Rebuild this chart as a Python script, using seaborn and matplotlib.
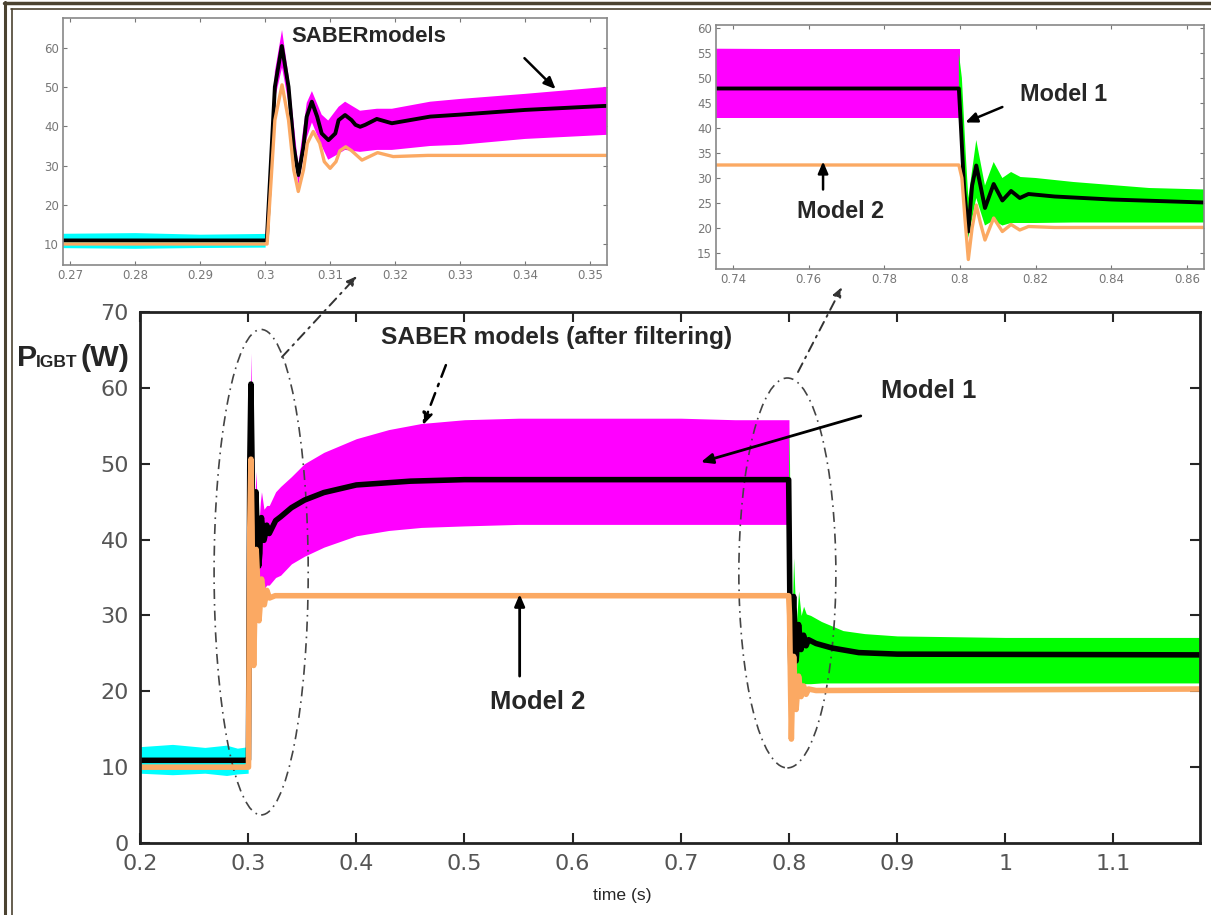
import matplotlib
matplotlib.use("Agg")
import matplotlib.pyplot as plt
import seaborn as sns
from matplotlib import font_manager
from matplotlib.patches import Ellipse
from matplotlib.lines import Line2D
from matplotlib.ticker import FixedLocator, FixedFormatter

# ---- valores (P_IGBT em W, tempo em s) ----
# SABER antes do degrau (faixa ciano)
t_cyan = [0.2, 0.23, 0.26, 0.28, 0.29, 0.3]
cyan_hi = [12.7, 13.0, 12.6, 12.9, 12.5, 12.7]
cyan_lo = [9.2, 9.0, 9.2, 8.9, 9.1, 9.2]

# SABER entre 0.3 e 0.8 (faixa magenta)
t_mag = [0.300, 0.3015, 0.3026, 0.3036, 0.3051, 0.3064, 0.3072, 0.3087, 0.3097, 0.3113,
         0.3123, 0.3146, 0.3172, 0.3195, 0.3254, 0.33, 0.34, 0.352, 0.37, 0.40, 0.43,
         0.46, 0.50, 0.55, 0.60, 0.65, 0.70, 0.75, 0.8]
mag_hi = [10, 54, 64.6, 53, 30, 46, 49, 43, 41.5, 45,
          46.3, 44, 44.5, 44.5, 46.3, 47, 48.3, 50, 51.5, 53.3, 54.5,
          55.3, 55.8, 56, 56, 56, 56, 55.8, 55.8]
mag_lo = [10, 47, 55, 46, 25, 37, 41, 35, 31.5, 33,
          34, 33.5, 34, 34, 35, 35.3, 36.8, 37.8, 39, 40.5, 41.2,
          41.6, 41.8, 42, 42, 42, 42, 42, 42]

# SABER depois de 0.8 (faixa verde)
t_green = [0.7997, 0.8005, 0.8015, 0.8022, 0.8043, 0.8066, 0.8089, 0.8112, 0.8135, 0.816,
           0.82, 0.83, 0.85, 0.87, 0.9, 1.0, 1.18]
green_hi = [55, 50, 35, 26, 37.6, 28.5, 33.2, 30, 31.2, 30.2,
            30, 29.2, 28, 27.6, 27.3, 27.1, 27.1]
green_lo = [42, 40, 25, 18, 26, 20.5, 21.5, 20.5, 21, 21,
            21, 21.1, 21.1, 21.1, 21.1, 21.1, 21.1]

# Model 1 (preto)
t_model1 = [0.2, 0.3, 0.30026, 0.3015, 0.30257, 0.3036, 0.3044, 0.30513, 0.3059, 0.3064,
            0.30718, 0.3080, 0.3087, 0.30974, 0.3108, 0.3113, 0.3123, 0.3133, 0.3139, 0.31462,
            0.3154, 0.31718, 0.3195, 0.3254, 0.33, 0.34, 0.352, 0.37, 0.40, 0.45,
            0.50, 0.7997, 0.8002, 0.8011, 0.8022, 0.8032, 0.8043, 0.8054, 0.8066, 0.8089,
            0.8112, 0.8135, 0.8158, 0.8181, 0.825, 0.84, 0.8645, 0.9, 1.18]
p_model1 = [10.9, 10.9, 11, 50.1, 60.5, 50.1, 34.8, 27.6, 34.8, 42.5,
            46.3, 42.5, 38.2, 36.5, 38.2, 41.6, 42.9, 41.6, 40.4, 39.9,
            40.4, 41.9, 40.8, 42.5, 43, 44.2, 45.2, 46.2, 47.2, 47.7,
            47.9, 47.9, 40.9, 27.6, 19.3, 28.5, 32.5, 28.5, 24, 28.8,
            25.5, 27.4, 26, 26.8, 26.3, 25.7, 25.1, 24.9, 24.8]

# Model 2 (laranja)
t_model2 = [0.2, 0.3, 0.3003, 0.3015, 0.3026, 0.3036, 0.3044, 0.3051, 0.3059, 0.3065,
            0.3074, 0.3084, 0.3091, 0.3100, 0.3109, 0.3115, 0.3124, 0.3133, 0.3149, 0.3173,
            0.3197, 0.325, 0.7997, 0.8005, 0.8013, 0.8022, 0.8032, 0.8043, 0.8054, 0.8066,
            0.8089, 0.8112, 0.8135, 0.8158, 0.8181, 0.825, 1.18]
p_model2 = [10, 10, 10, 41.6, 50.6, 41.6, 28.9, 23.4, 28.9, 35.7,
            38.7, 35.7, 31, 29.3, 31, 33.8, 34.8, 33.8, 31.4, 33.3,
            32.3, 32.6, 32.6, 30, 22, 13.7, 20, 24.6, 21, 17.6,
            22, 19.3, 20.7, 19.6, 20.3, 20.1, 20.3]

# eixos
main_xticks = [0.2, 0.3, 0.4, 0.5, 0.6, 0.7, 0.8, 0.9, 1.0, 1.1]
main_xlabels = ["0.2", "0.3", "0.4", "0.5", "0.6", "0.7", "0.8", "0.9", "1", "1.1"]
main_yticks = [0, 10, 20, 30, 40, 50, 60, 70]
zoom1_xticks = [0.27, 0.28, 0.29, 0.30, 0.31, 0.32, 0.33, 0.34, 0.35]
zoom1_xlabels = ["0.27", "0.28", "0.29", "0.3", "0.31", "0.32", "0.33", "0.34", "0.35"]
zoom1_yticks = [10, 20, 30, 40, 50, 60]
zoom2_xticks = [0.74, 0.76, 0.78, 0.80, 0.82, 0.84, 0.86]
zoom2_xlabels = ["0.74", "0.76", "0.78", "0.8", "0.82", "0.84", "0.86"]
zoom2_yticks = [15, 20, 25, 30, 35, 40, 45, 50, 55, 60]

CYAN, MAGENTA, GREEN, ORANGE = "#00ffff", "#ff00ff", "#00ff00", "#fba963"

sns.set_style("ticks")
names = {f.name for f in font_manager.fontManager.ttflist}
if "Liberation Sans Narrow" in names:
    NARROW, k = "Liberation Sans Narrow", 1.0
else:
    NARROW, k = "Liberation Sans", 0.84
plt.rcParams["font.family"] = ["DejaVu Sans"]

W, H = 1211, 915
fig = plt.figure(figsize=(W / 100, H / 100), dpi=100)
fig.patch.set_facecolor("white")


def px(x, y):
    return (x / W, 1 - y / H)


def draw_traces(ax, lw_blk, lw_org):
    ax.fill_between(t_cyan, cyan_lo, cyan_hi, color=CYAN, lw=0)
    ax.fill_between(t_mag, mag_lo, mag_hi, color=MAGENTA, lw=0)
    ax.fill_between(t_green, green_lo, green_hi, color=GREEN, lw=0)
    sns.lineplot(x=t_model1, y=p_model1, ax=ax, color="black", lw=lw_blk,
                 estimator=None, sort=False, legend=False)
    sns.lineplot(x=t_model2, y=p_model2, ax=ax, color=ORANGE, lw=lw_org,
                 estimator=None, sort=False, legend=False)
    for ln in ax.lines:
        ln.set_solid_joinstyle("round")


def bold(ax, x, y, s, size, **kw):
    ax.text(x, y, s, fontsize=size * k, fontweight="bold", family=NARROW,
            ha="center", va="center", **kw)


def arrow(ax, head, tail, ls="-", lw=1.8, color="black", **kw):
    ax.annotate("", xy=head, xytext=tail,
                arrowprops=dict(arrowstyle="-|>,head_length=0.7,head_width=0.3",
                                ls=ls, lw=lw, color=color, shrinkA=0, shrinkB=0),
                annotation_clip=False, **kw)


# ---- grafico principal ----
ax = fig.add_axes([140 / W, 72 / H, 1060 / W, 531 / H])
draw_traces(ax, 4, 4)
ax.set_xlim(0.2, 1.18)
ax.set_ylim(0, 70)
ax.xaxis.set_major_locator(FixedLocator(main_xticks))
ax.xaxis.set_major_formatter(FixedFormatter(main_xlabels))
ax.yaxis.set_major_locator(FixedLocator(main_yticks))
ax.tick_params(direction="in", length=7, width=1.5, top=True, right=True,
               labelsize=16, labelcolor="#555555", pad=8)
for s in ax.spines.values():
    s.set_linewidth(2)
    s.set_color("#222222")
ax.set_xlabel("")
ax.set_ylabel("")

ell_style = dict(fill=False, ls=(0, (6, 3, 1, 3)), lw=1.2, ec="#444444")
ax.add_patch(Ellipse((0.312, 35.7), 0.087, 64, **ell_style))
ax.add_patch(Ellipse((0.7985, 35.6), 0.0897, 51.4, **ell_style))

bold(ax, 0.5854, 66.7, "SABER models (after filtering)", 21)
arrow(ax, (0.4616, 55.1), (0.4828, 63.0), ls=(0, (5, 3, 1, 3)))
bold(ax, 0.929, 59.6, "Model 1", 22)
arrow(ax, (0.7185, 50.2), (0.8664, 56.3), lw=2)
bold(ax, 0.568, 18.6, "Model 2", 22)
arrow(ax, (0.551, 32.8), (0.551, 22.0), lw=2)

# linhas de ligacao para os zooms
for tail, head in [((282, 357), (357, 276)), ((798, 372), (842, 287))]:
    ax.annotate("", xy=px(*head), xycoords="figure fraction",
                xytext=px(*tail), textcoords="figure fraction",
                arrowprops=dict(arrowstyle="-|>,head_length=0.6,head_width=0.25",
                                ls=(0, (5, 3, 1, 3)), lw=1.4, color="#333333",
                                shrinkA=0, shrinkB=0),
                annotation_clip=False)


def style_inset(a):
    a.tick_params(direction="in", length=3, width=0.8, color="#777777",
                  top=True, right=True, labelsize=8.5, labelcolor="#777777", pad=3)
    for s in a.spines.values():
        s.set_linewidth(1.2)
        s.set_color("#888888")
    a.set_xlabel("")
    a.set_ylabel("")


# ---- zoom em 0.3 s ----
ax1 = fig.add_axes([63 / W, 650 / H, 544 / W, 247 / H])
draw_traces(ax1, 2.8, 2.4)
ax1.set_xlim(0.2689, 0.3526)
ax1.set_ylim(4.64, 67.65)
ax1.xaxis.set_major_locator(FixedLocator(zoom1_xticks))
ax1.xaxis.set_major_formatter(FixedFormatter(zoom1_xlabels))
ax1.yaxis.set_major_locator(FixedLocator(zoom1_yticks))
style_inset(ax1)
ax1.text(0.304, 63, "SABERmodels", fontsize=19 * k, fontweight="bold",
         family=NARROW, ha="left", va="center")
arrow(ax1, (0.3447, 49.5), (0.3399, 57.4))

# ---- zoom em 0.8 s ----
ax2 = fig.add_axes([716 / W, 646 / H, 488 / W, 244 / H])
draw_traces(ax2, 2.8, 2.4)
ax2.set_xlim(0.7355, 0.8645)
ax2.set_ylim(11.8, 60.6)
ax2.xaxis.set_major_locator(FixedLocator(zoom2_xticks))
ax2.xaxis.set_major_formatter(FixedFormatter(zoom2_xlabels))
ax2.yaxis.set_major_locator(FixedLocator(zoom2_yticks))
style_inset(ax2)
bold(ax2, 0.8275, 46.7, "Model 1", 20)
arrow(ax2, (0.8014, 41.1), (0.8112, 44.2))
bold(ax2, 0.7684, 23.3, "Model 2", 20)
arrow(ax2, (0.7638, 33.3), (0.7638, 27.7))

# ---- rotulos ----
fig.text(*px(17, 366), "P", fontsize=26 * k, fontweight="bold", family=NARROW, va="baseline")
fig.text(*px(36, 367), "IGBT", fontsize=15 * k, fontweight="bold", family=NARROW, va="baseline")
fig.text(*px(80, 366), "(W)", fontsize=26 * k, fontweight="bold", family=NARROW, va="baseline")
fig.text(*px(622, 900), "time (s)", fontsize=15 * k, family=NARROW, ha="center", va="baseline")

# moldura dupla (topo e esquerda)
border = "#4b4331"
fig.add_artist(Line2D([px(4, 0)[0], 1], [px(0, 3)[1]] * 2, lw=2.5, color=border))
fig.add_artist(Line2D([px(11, 0)[0], 1], [px(0, 9)[1]] * 2, lw=1.2, color=border))
fig.add_artist(Line2D([px(5, 0)[0]] * 2, [0, px(0, 2)[1]], lw=2.2, color=border))
fig.add_artist(Line2D([px(12, 0)[0]] * 2, [0, px(0, 9)[1]], lw=1.2, color=border))

fig.savefig("out.png", dpi=100)
